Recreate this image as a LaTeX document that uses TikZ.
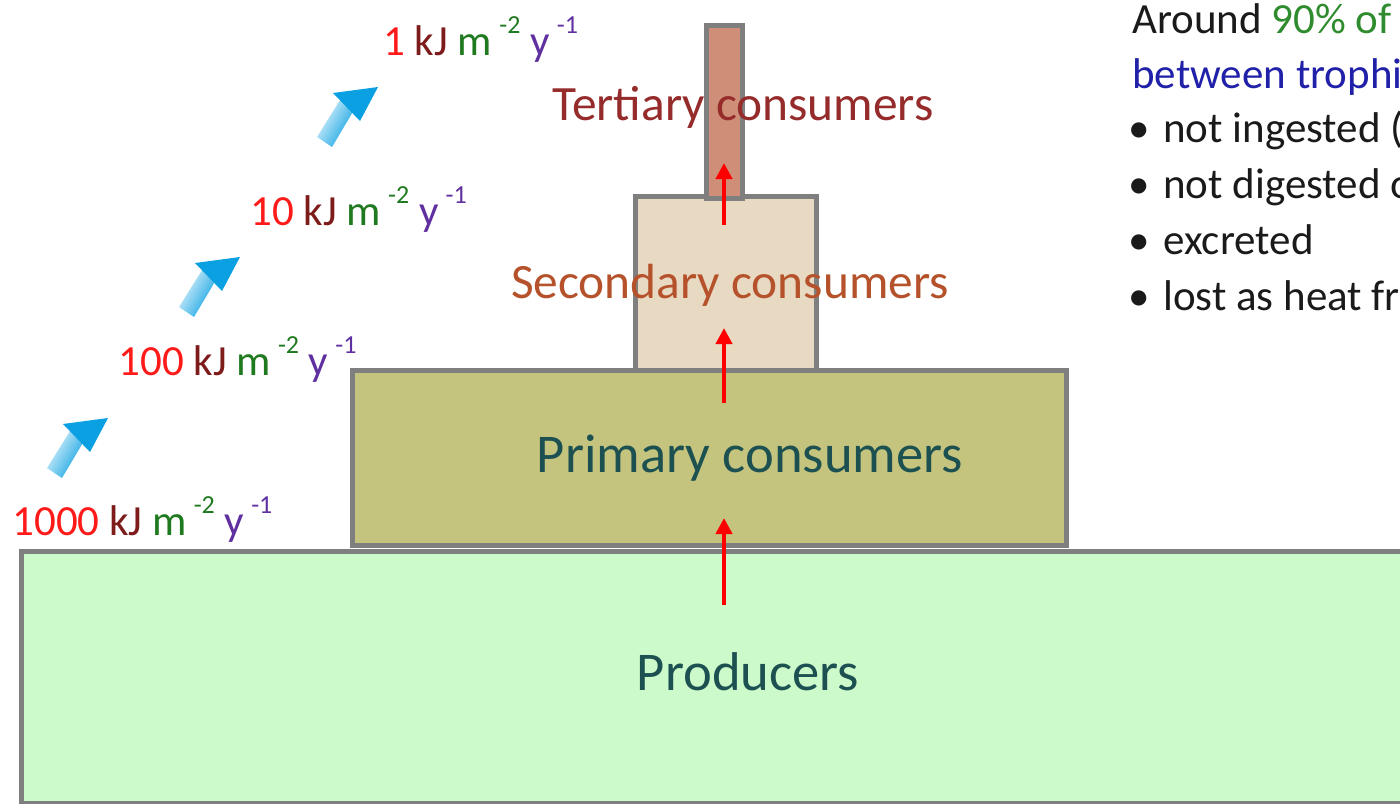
\documentclass[tikz,border=0pt]{standalone}
\usepackage{fontspec}
\setmainfont{Carlito}
\usetikzlibrary{arrows.meta}
\definecolor{cborder}{HTML}{7F7F7F}
\definecolor{cprod}{HTML}{CCFACA}
\definecolor{cprim}{HTML}{C4C47E}
\definecolor{csec}{HTML}{E7D9C2}
\definecolor{cter}{HTML}{CF8E78}
\definecolor{tter}{HTML}{952B2B}
\definecolor{tsec}{HTML}{B5522B}
\definecolor{tprim}{HTML}{1D5151}
\definecolor{cnum}{HTML}{FF1A1A}
\definecolor{ckj}{HTML}{7E1C1C}
\definecolor{cmm}{HTML}{1F7A1F}
\definecolor{cyy}{HTML}{6030A0}
\definecolor{cgreen}{HTML}{2E8B2E}
\definecolor{cblue}{HTML}{2020A8}
\definecolor{cblack}{HTML}{1A1A1A}
\definecolor{arrowblue}{HTML}{0AA0E2}
\definecolor{arrowred}{HTML}{FF0000}
\newcommand\supx[1]{\,\raisebox{0.5em}{\fontsize{13}{13}\selectfont #1}}
\newcommand\eunit[1]{\textcolor{cnum}{#1} \textcolor{ckj}{kJ} \textcolor{cmm}{m\supx{-2}} \textcolor{cyy}{y\supx{-1}}}
\begin{document}
\begin{tikzpicture}[x=0.5pt,y=-0.5pt,
  box/.style={draw=cborder, line width=2.5pt},
  levellbl/.style={anchor=base, inner sep=0pt},
  bigtxt/.style={font=\fontsize{27.3}{32}\selectfont},
  midtxt/.style={font=\fontsize{24.7}{29}\selectfont},
  energylbl/.style={anchor=base west, inner sep=0pt, font=\fontsize{21.5}{26}\selectfont},
  notetxt/.style={anchor=base west, inner sep=0pt, font=\fontsize{21.5}{26}\selectfont, text=cblack},
  flowarrow/.style={draw=arrowred, line width=2pt, -{Triangle[width=8pt,length=8pt]}},
  blueshaft/.style={left color=arrowblue!8, right color=arrowblue, shading angle=60},
  bluehead/.style={fill=arrowblue}
]
\useasboundingbox (0,0) rectangle (1400,803);
\begin{scope}
\clip (0,0) rectangle (1400,803);
% boxes
\path[box, fill=cprod] (21,551) rectangle (1420,803);
\path[box, fill=cprim] (352,370) rectangle (1066,545);
\path[box, fill=csec] (635,196) rectangle (816,370);
\path[box, fill=cter] (706,25) rectangle (742,198);
% level labels
\node[levellbl, bigtxt, text=tprim] (prodlbl) at (748,690) {Producers};
\node[levellbl, bigtxt, text=tprim] (primlbl) at (750,472) {Primary consumers};
\node[levellbl, midtxt, text=tsec] (seclbl) at (730,298) {Secondary consumers};
\node[levellbl, midtxt, text=tter] (terlbl) at (743,120) {Tertiary consumers};
% red flow arrows
\coordinate (f1s) at (724,605); \coordinate (f1e) at (724,518);
\coordinate (f2s) at (724,403); \coordinate (f2e) at (724,328);
\coordinate (f3s) at (724,225); \coordinate (f3e) at (724,163);
\draw[flowarrow] (f1s) -- (f1e);
\draw[flowarrow] (f2s) -- (f2e);
\draw[flowarrow] (f3s) -- (f3e);
% blue arrows
\foreach \dx/\dy in {0/0, 132/-161, 270/-331}{
  \begin{scope}[shift={(\dx,\dy)}]
  \path[blueshaft] (47,468) -- (72,428) -- (84,441) -- (62,478) -- cycle;
  \path[bluehead] (63,424) -- (108,418) -- (90,452) -- cycle;
  \end{scope}
}
% energy labels
\node[energylbl] (e1000) at (12,535) {\eunit{1000}};
\node[energylbl] (e100) at (118,375) {\eunit{100}};
\node[energylbl] (e10) at (250,225) {\eunit{10}};
\node[energylbl] (e1) at (383,55) {\eunit{1}};
% notes
\node[notetxt] (n1) at (1132,33) {Around \textcolor{cgreen}{90\% of}};
\node[notetxt, text=cblue] (n2) at (1132,88) {between trophic};
\node[notetxt] (b1) at (1128,142) {•};
\node[notetxt] (n3) at (1163,142) {not ingested (};
\node[notetxt] (b2) at (1128,198) {•};
\node[notetxt] (n4) at (1163,198) {not digested or};
\node[notetxt] (b3) at (1128,254) {•};
\node[notetxt] (n5) at (1163,254) {excreted};
\node[notetxt] (b4) at (1128,310) {•};
\node[notetxt] (n6) at (1163,310) {lost as heat from};
\end{scope}
\end{tikzpicture}
\end{document}
